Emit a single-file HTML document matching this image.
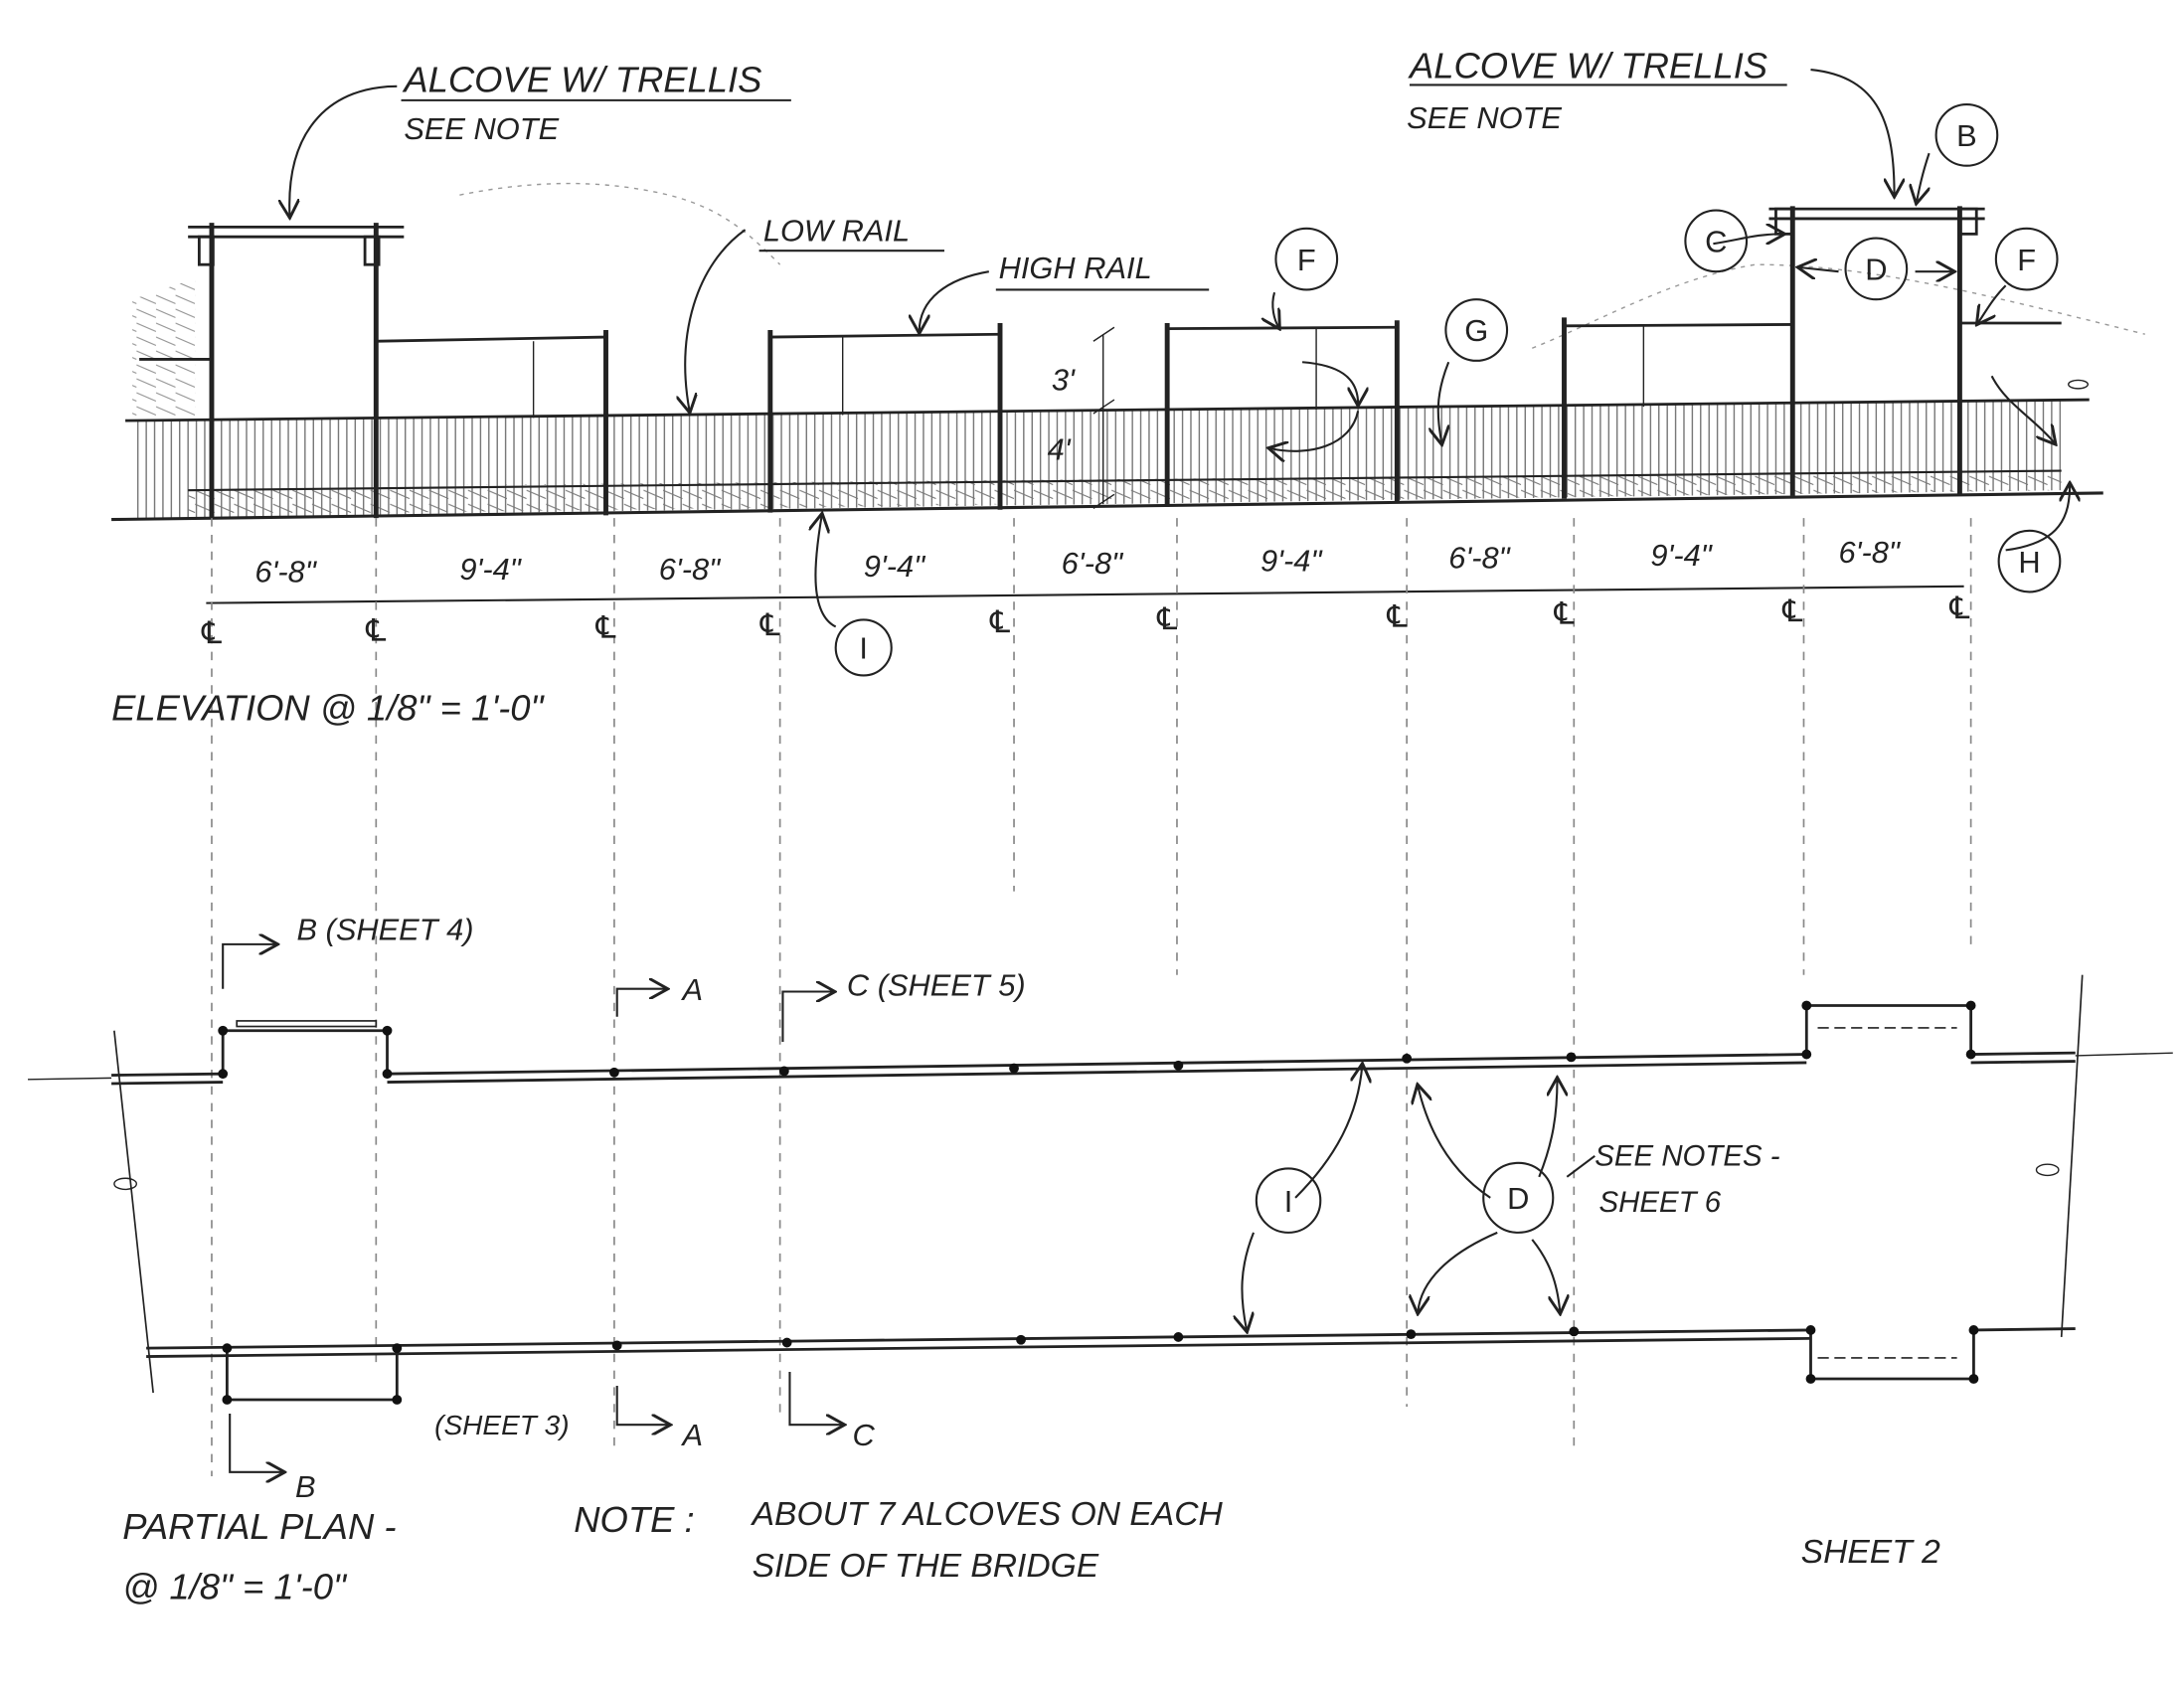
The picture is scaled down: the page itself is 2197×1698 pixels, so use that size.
<!DOCTYPE html>
<html><head><meta charset="utf-8"><style>
html,body{margin:0;padding:0;background:#fff;}
svg{display:block;}
text{font-family:"Liberation Sans",sans-serif;fill:#222;}
</style></head><body>
<svg width="2197" height="1698" viewBox="0 0 1568 1212" preserveAspectRatio="none" xmlns="http://www.w3.org/2000/svg">
<defs>
<pattern id="vh" width="6" height="10" patternUnits="userSpaceOnUse"><line x1="3" y1="0" x2="3" y2="10" stroke="#666" stroke-width="0.9"/></pattern>
<pattern id="dh" width="14" height="10" patternUnits="userSpaceOnUse"><line x1="0" y1="2" x2="14" y2="8" stroke="#777" stroke-width="0.8"/></pattern>
<marker id="ar" markerWidth="10" markerHeight="10" refX="8" refY="5" orient="auto"><path d="M0,0 L9,5 L0,10" fill="none" stroke="#222" stroke-width="1.4"/></marker>
</defs>
<g stroke="#222" fill="none">
<!-- sky / hill sketch -->
<path d="M330,140 C380,130 430,128 480,140 C520,150 540,170 560,190" stroke="#999" stroke-dasharray="3 4"/>
<path d="M1100,250 C1150,230 1200,200 1260,190 C1340,190 1420,210 1540,240" stroke="#999" stroke-dasharray="3 4"/>
<!-- rail band -->
<polygon points="95,302 1480,288 1480,352 95,372" fill="url(#vh)" stroke="none"/>
<polygon points="135,350 1480,338 1480,352 135,370" fill="url(#dh)" stroke="none"/>
<polygon points="95,215 140,200 140,300 95,300" fill="url(#dh)" stroke="none" opacity="0.8"/>
<line x1="90" y1="302" x2="1500" y2="287" stroke-width="2"/>
<line x1="135" y1="352" x2="1480" y2="338" stroke-width="1.5"/>
<line x1="80" y1="373" x2="1510" y2="354" stroke-width="2.2"/>
<!-- posts -->
<g stroke-width="3.5">
<line x1="152" y1="160" x2="152" y2="372"/><line x1="270" y1="160" x2="270" y2="372"/>
<line x1="435" y1="237" x2="435" y2="370"/><line x1="553" y1="237" x2="553" y2="368"/>
<line x1="718" y1="232" x2="718" y2="366"/><line x1="838" y1="232" x2="838" y2="364"/>
<line x1="1003" y1="230" x2="1003" y2="360"/><line x1="1123" y1="228" x2="1123" y2="358"/>
<line x1="1287" y1="148" x2="1287" y2="356"/><line x1="1407" y1="148" x2="1407" y2="355"/>
</g>
<!-- high rails -->
<g stroke-width="2">
<line x1="270" y1="245" x2="435" y2="242"/><line x1="553" y1="242" x2="718" y2="240"/>
<line x1="838" y1="236" x2="1003" y2="235"/><line x1="1123" y1="234" x2="1287" y2="233"/>
<line x1="1407" y1="232" x2="1480" y2="232"/><line x1="100" y1="258" x2="152" y2="258"/>
</g>
<g stroke-width="1">
<line x1="383" y1="245" x2="383" y2="300"/><line x1="605" y1="242" x2="605" y2="298"/>
<line x1="945" y1="236" x2="945" y2="294"/><line x1="1180" y1="234" x2="1180" y2="292"/>
</g>
<!-- alcove trellis tops -->
<g stroke-width="2">
<line x1="135" y1="163" x2="290" y2="163"/><line x1="135" y1="170" x2="290" y2="170"/>
<rect x="143" y="170" width="10" height="20"/><rect x="262" y="170" width="10" height="20"/>
<line x1="1270" y1="150" x2="1425" y2="150"/><line x1="1270" y1="157" x2="1425" y2="157"/>
<rect x="1275" y="150" width="12" height="18"/><rect x="1407" y="150" width="12" height="18"/>
</g>
<!-- leader arrows -->
<g stroke-width="1.5">
<path d="M285,62 C240,62 205,90 208,155" marker-end="url(#ar)"/>
<path d="M1300,50 C1350,55 1360,90 1360,140" marker-end="url(#ar)"/>
<path d="M535,165 C500,190 485,240 495,295" marker-end="url(#ar)"/>
<path d="M710,195 C680,200 660,215 660,238" marker-end="url(#ar)"/>
<path d="M915,210 C912,220 915,230 918,235" marker-end="url(#ar)"/>
<path d="M935,260 C960,262 975,270 975,290" marker-end="url(#ar)"/>
<path d="M975,295 C970,320 940,328 912,322" marker-end="url(#ar)"/>
<path d="M1040,260 C1030,285 1032,300 1035,318" marker-end="url(#ar)"/>
<path d="M1230,175 C1250,172 1260,168 1280,168" marker-end="url(#ar)"/>
<path d="M1320,195 L1292,192" marker-end="url(#ar)"/>
<path d="M1375,195 L1402,195" marker-end="url(#ar)"/>
<path d="M1440,205 C1430,215 1425,225 1420,232" marker-end="url(#ar)"/>
<path d="M1430,270 C1440,290 1460,300 1475,318" marker-end="url(#ar)"/>
<path d="M1440,395 C1480,390 1486,370 1486,348" marker-end="url(#ar)"/>
<path d="M600,450 C580,440 585,400 590,370" marker-end="url(#ar)"/>
<path d="M1385,110 C1380,125 1378,135 1376,145" marker-end="url(#ar)"/>
</g>
<!-- 3'/4' dimension -->
<line x1="792" y1="240" x2="792" y2="362" stroke-width="1"/>
<line x1="785" y1="245" x2="800" y2="235"/><line x1="785" y1="297" x2="800" y2="287"/><line x1="785" y1="365" x2="800" y2="355"/>
<!-- elevation dim line -->
<line x1="148" y1="433" x2="1410" y2="421" stroke-width="1.5"/>
<g stroke-width="1.2" stroke-dasharray="6 6" stroke="#888">
<line x1="152" y1="372" x2="152" y2="1060"/><line x1="270" y1="372" x2="270" y2="980"/>
<line x1="441" y1="372" x2="441" y2="1040"/><line x1="560" y1="372" x2="560" y2="1020"/>
<line x1="728" y1="372" x2="728" y2="640"/><line x1="845" y1="372" x2="845" y2="700"/>
<line x1="1010" y1="372" x2="1010" y2="1010"/><line x1="1130" y1="372" x2="1130" y2="1040"/>
<line x1="1295" y1="372" x2="1295" y2="700"/><line x1="1415" y1="372" x2="1415" y2="680"/>
</g>
<!-- plan lines -->
<g stroke-width="2">
<line x1="80" y1="772" x2="160" y2="771"/><line x1="278" y1="771" x2="1297" y2="757"/><line x1="1415" y1="757" x2="1490" y2="756"/>
<line x1="80" y1="778" x2="160" y2="777"/><line x1="278" y1="777" x2="1297" y2="763"/><line x1="1415" y1="763" x2="1490" y2="762"/>
<polyline points="160,771 160,740 278,740 278,771"/>
<polyline points="1297,757 1297,722 1415,722 1415,757"/>
<line x1="105" y1="968" x2="1300" y2="955"/><line x1="105" y1="974" x2="1300" y2="961"/><line x1="1417" y1="955" x2="1490" y2="954"/>
<polyline points="163,968 163,1005 285,1005 285,968"/>
<polyline points="1300,955 1300,990 1417,990 1417,955"/>
<line x1="20" y1="775" x2="80" y2="774" stroke-width="1"/><line x1="1490" y1="758" x2="1560" y2="756" stroke-width="1"/>
</g>
<g stroke-width="1.2">
<path d="M82,740 L110,1000"/><path d="M1495,700 L1480,960"/>
<rect x="170" y="733" width="100" height="4"/>
<line x1="1305" y1="738" x2="1405" y2="738" stroke-dasharray="8 4"/>
<line x1="1305" y1="975" x2="1405" y2="975" stroke-dasharray="8 4"/>
</g>
<g fill="#111" stroke="none">
<circle cx="160" cy="771" r="3.5"/><circle cx="278" cy="771" r="3.5"/><circle cx="160" cy="740" r="3.5"/><circle cx="278" cy="740" r="3.5"/>
<circle cx="441" cy="770" r="3.5"/><circle cx="563" cy="769" r="3.5"/><circle cx="728" cy="767" r="3.5"/><circle cx="846" cy="765" r="3.5"/>
<circle cx="1010" cy="760" r="3.5"/><circle cx="1128" cy="759" r="3.5"/>
<circle cx="1297" cy="722" r="3.5"/><circle cx="1415" cy="722" r="3.5"/><circle cx="1297" cy="757" r="3.5"/><circle cx="1415" cy="757" r="3.5"/>
<circle cx="163" cy="968" r="3.5"/><circle cx="285" cy="968" r="3.5"/><circle cx="163" cy="1005" r="3.5"/><circle cx="285" cy="1005" r="3.5"/>
<circle cx="443" cy="966" r="3.5"/><circle cx="565" cy="964" r="3.5"/><circle cx="733" cy="962" r="3.5"/><circle cx="846" cy="960" r="3.5"/>
<circle cx="1013" cy="958" r="3.5"/><circle cx="1130" cy="956" r="3.5"/>
<circle cx="1300" cy="955" r="3.5"/><circle cx="1417" cy="955" r="3.5"/><circle cx="1300" cy="990" r="3.5"/><circle cx="1417" cy="990" r="3.5"/>
</g>
<!-- section cuts -->
<g stroke-width="1.5">
<path d="M160,710 L160,678 L198,678" marker-end="url(#ar)"/>
<path d="M443,730 L443,710 L478,710" marker-end="url(#ar)"/>
<path d="M562,748 L562,712 L598,712" marker-end="url(#ar)"/>
<path d="M165,1015 L165,1057 L203,1057" marker-end="url(#ar)"/>
<path d="M443,995 L443,1023 L480,1023" marker-end="url(#ar)"/>
<path d="M567,985 L567,1023 L605,1023" marker-end="url(#ar)"/>
<path d="M930,860 C960,830 975,800 978,765" marker-end="url(#ar)"/>
<path d="M900,885 C890,910 890,930 895,955" marker-end="url(#ar)"/>
<path d="M1070,860 C1040,840 1025,810 1018,780" marker-end="url(#ar)"/>
<path d="M1105,845 C1115,820 1118,800 1118,775" marker-end="url(#ar)"/>
<path d="M1075,885 C1040,900 1020,920 1018,942" marker-end="url(#ar)"/>
<path d="M1100,890 C1112,905 1118,920 1120,942" marker-end="url(#ar)"/>
<path d="M1145,830 L1125,845" />
</g>
<!-- circles -->
<g stroke-width="1.5">
<circle cx="620" cy="465" r="20"/><circle cx="938" cy="186" r="22"/><circle cx="1060" cy="237" r="22"/>
<circle cx="1232" cy="173" r="22"/><circle cx="1412" cy="97" r="22"/><circle cx="1347" cy="193" r="22"/>
<circle cx="1455" cy="186" r="22"/><circle cx="1457" cy="403" r="22"/>
<circle cx="925" cy="862" r="23"/><circle cx="1090" cy="860" r="25"/>
</g>
<ellipse cx="90" cy="850" rx="8" ry="4"/><ellipse cx="1470" cy="840" rx="8" ry="4"/><ellipse cx="1492" cy="276" rx="7" ry="3"/>
<!-- underlines -->
<line x1="288" y1="72" x2="568" y2="72" stroke-width="1.5"/>
<line x1="1012" y1="61" x2="1283" y2="61" stroke-width="1.5"/>
<line x1="545" y1="180" x2="678" y2="180" stroke-width="1.5"/>
<line x1="715" y1="208" x2="868" y2="208" stroke-width="1.5"/>
</g>
<g font-size="26" font-style="italic">
<text x="290" y="66">ALCOVE W/ TRELLIS</text>
<text x="290" y="100" font-size="22">SEE NOTE</text>
<text x="1012" y="56">ALCOVE W/ TRELLIS</text>
<text x="1010" y="92" font-size="22">SEE NOTE</text>
<text x="548" y="173" font-size="22">LOW RAIL</text>
<text x="717" y="200" font-size="22">HIGH RAIL</text>
<text x="183" y="418" font-size="22">6'-8"</text><text x="330" y="416" font-size="22">9'-4"</text>
<text x="473" y="416" font-size="22">6'-8"</text><text x="620" y="414" font-size="22">9'-4"</text>
<text x="762" y="412" font-size="22">6'-8"</text><text x="905" y="410" font-size="22">9'-4"</text>
<text x="1040" y="408" font-size="22">6'-8"</text><text x="1185" y="406" font-size="22">9'-4"</text>
<text x="1320" y="404" font-size="22">6'-8"</text>
<text x="755" y="280" font-size="22">3'</text><text x="752" y="330" font-size="22">4'</text>
<text x="80" y="517">ELEVATION @ 1/8" = 1'-0"</text>
<text x="213" y="675" font-size="22">B (SHEET 4)</text>
<text x="490" y="718" font-size="22">A</text>
<text x="608" y="715" font-size="22">C (SHEET 5)</text>
<text x="212" y="1075" font-size="22">B</text>
<text x="312" y="1030" font-size="20">(SHEET 3)</text>
<text x="490" y="1038" font-size="22">A</text>
<text x="612" y="1038" font-size="22">C</text>
<text x="1145" y="837" font-size="21">SEE NOTES -</text>
<text x="1148" y="870" font-size="21">SHEET 6</text>
<text x="88" y="1105">PARTIAL PLAN -</text>
<text x="88" y="1148">@ 1/8" = 1'-0"</text>
<text x="412" y="1100">NOTE :</text>
<text x="540" y="1095" font-size="24">ABOUT 7 ALCOVES ON EACH</text>
<text x="540" y="1132" font-size="24">SIDE OF THE BRIDGE</text>
<text x="1293" y="1122" font-size="24">SHEET 2</text>
</g>
<g font-size="22" text-anchor="middle">
<text x="620" y="473">I</text><text x="938" y="194">F</text><text x="1060" y="245">G</text>
<text x="1232" y="181">C</text><text x="1412" y="105">B</text><text x="1347" y="201">D</text>
<text x="1455" y="194">F</text><text x="1457" y="411">H</text>
<text x="925" y="870">I</text><text x="1090" y="868">D</text>
<text x="152" y="462">℄</text><text x="270" y="460">℄</text><text x="435" y="458">℄</text><text x="553" y="456">℄</text>
<text x="718" y="454">℄</text><text x="838" y="452">℄</text><text x="1003" y="450">℄</text><text x="1123" y="448">℄</text>
<text x="1287" y="446">℄</text><text x="1407" y="444">℄</text>
</g>
</svg>
</body></html>
